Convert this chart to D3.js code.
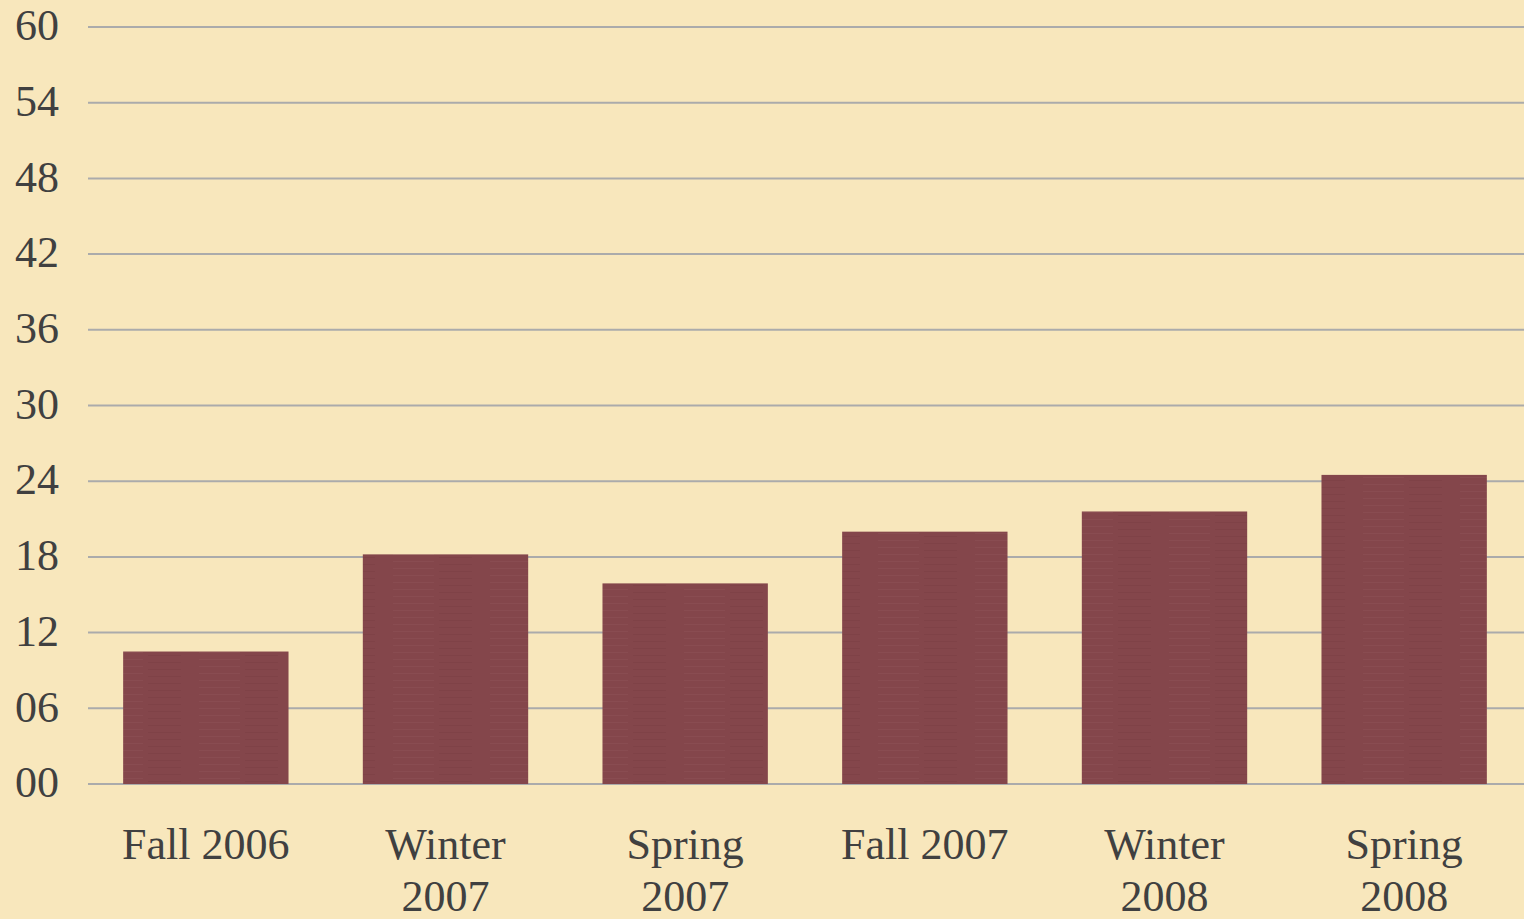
<!DOCTYPE html>
<html>
<head>
<meta charset="utf-8">
<script src="https://cdn.jsdelivr.net/npm/d3@7"></script>
<style>
html, body { margin: 0; padding: 0; background: #f8e7bc; }
svg { display: block; }
text { font-family: "Liberation Serif", "Times New Roman", Times, serif; }
</style>
</head>
<body>
<svg></svg>
<script>
var width = 1524, height = 919;

var margin = ({top: 27, right: 0, bottom: 135, left: 88});

// data
var terms = ["Fall 2006", "Winter 2007", "Spring 2007", "Fall 2007", "Winter 2008", "Spring 2008"];
var termLabels = [["Fall 2006"], ["Winter", "2007"], ["Spring", "2007"], ["Fall 2007"], ["Winter", "2008"], ["Spring", "2008"]];
var values = [10.5, 18.2, 15.9, 20.0, 21.6, 24.5];
var yTicks = [0, 6, 12, 18, 24, 30, 36, 42, 48, 54, 60];

var data = terms.map(function(t, i) {
return {term: t, label: termLabels[i], value: values[i]};
});

var svg = d3.select("svg")
.attr("width", width)
.attr("height", height)
.attr("viewBox", [0, 0, width, height]);

// faint linen texture on the bars
var defs = svg.append("defs");
var pat = defs.append("pattern")
.attr("id", "linen")
.attr("patternUnits", "userSpaceOnUse")
.attr("width", 97)
.attr("height", 7);
pat.append("rect").attr("width", 97).attr("height", 7).attr("fill", "#84464b");
pat.append("rect").attr("x", 5).attr("y", 1).attr("width", 41).attr("height", 1).attr("fill", "#8c5055").attr("opacity", 0.6);
pat.append("rect").attr("x", 51).attr("y", 4).attr("width", 33).attr("height", 1).attr("fill", "#7c4045").attr("opacity", 0.6);

var x = d3.scaleBand()
.domain(terms)
.range([86, width])
.paddingInner(0.31)
.paddingOuter(0.155);

var y = d3.scaleLinear()
.domain([0, 60])
.range([784, margin.top]);

// gridlines
svg.append("g")
.selectAll("line")
.data(yTicks)
.join("line")
.attr("x1", margin.left)
.attr("x2", width)
.attr("y1", d => y(d))
.attr("y2", d => y(d))
.attr("stroke", "#ababab")
.attr("stroke-width", 2);

// y tick labels
svg.append("g")
.selectAll("text")
.data(yTicks)
.join("text")
.attr("x", 59)
.attr("y", d => y(d))
.attr("dy", "0.3em")
.attr("text-anchor", "end")
.attr("font-size", 44)
.attr("fill", "#404040")
.text(d => d3.format("02d")(d));

// bars
svg.append("g")
.selectAll("rect")
.data(data)
.join("rect")
.attr("x", d => x(d.term))
.attr("y", d => y(d.value))
.attr("width", x.bandwidth())
.attr("height", d => y(0) - y(d.value))
.attr("fill", "url(#linen)");

// category labels
var lab = svg.append("g")
.selectAll("text")
.data(data)
.join("text")
.attr("x", d => x(d.term) + x.bandwidth() / 2)
.attr("y", 859)
.attr("text-anchor", "middle")
.attr("font-size", 44)
.attr("fill", "#404040");

lab.selectAll("tspan")
.data(d => d.label.map(l => ({l: l, cx: x(d.term) + x.bandwidth() / 2})))
.join("tspan")
.attr("x", d => d.cx)
.attr("dy", (d, i) => i === 0 ? 0 : 52)
.text(d => d.l);
</script>
</body>
</html>
